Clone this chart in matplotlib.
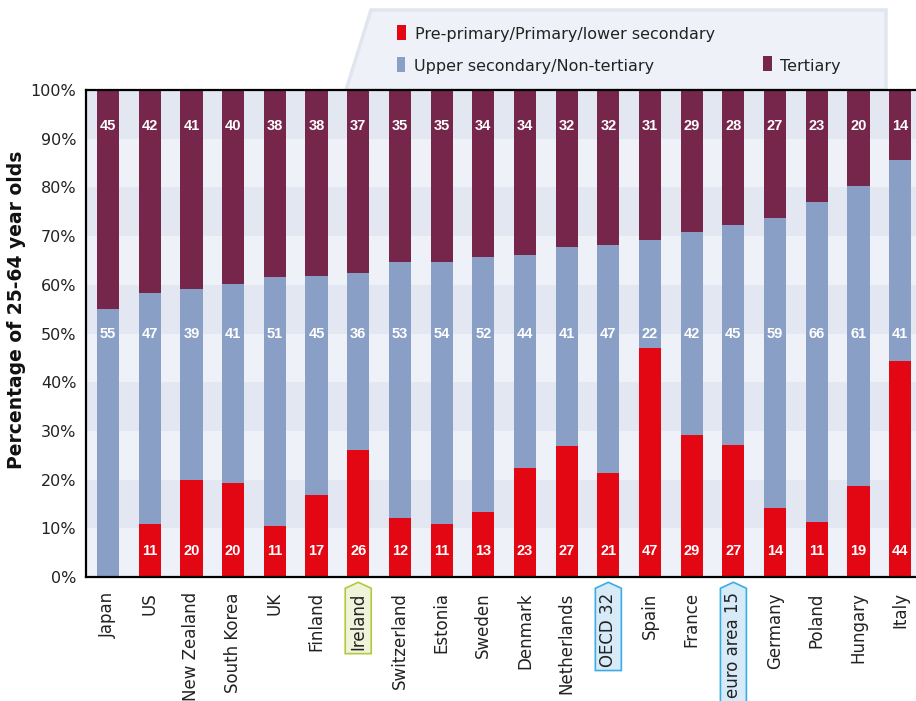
import matplotlib
matplotlib.use("Agg")
import matplotlib.pyplot as plt
from matplotlib.patches import Polygon, Rectangle
import numpy as np

countries = ["Japan", "US", "New Zealand", "South Korea", "UK", "Finland", "Ireland",
             "Switzerland", "Estonia", "Sweden", "Denmark", "Netherlands", "OECD 32",
             "Spain", "France", "euro area 15", "Germany", "Poland", "Hungary", "Italy"]
lower = [0.0, 10.9, 19.9, 19.3, 10.5, 16.8, 26.1, 12.1, 10.9, 13.3, 22.4, 26.9, 21.4,
         47.0, 29.2, 27.1, 14.2, 11.3, 18.7, 44.4]
upper = [55.0, 47.4, 39.2, 40.9, 51.1, 45.0, 36.3, 52.6, 53.8, 52.4, 43.7, 40.9, 46.8,
         22.2, 41.6, 45.2, 59.5, 65.7, 61.6, 41.2]
tertiary = [45.0, 41.7, 40.9, 39.8, 38.4, 38.2, 37.6, 35.3, 35.3, 34.3, 33.9, 32.2, 31.8,
            30.8, 29.2, 27.7, 26.3, 23.0, 19.7, 14.4]
lower_lbl = [None, 11, 20, 20, 11, 17, 26, 12, 11, 13, 23, 27, 21, 47, 29, 27, 14, 11, 19, 44]
upper_lbl = [55, 47, 39, 41, 51, 45, 36, 53, 54, 52, 44, 41, 47, 22, 42, 45, 59, 66, 61, 41]
tert_lbl = [45, 42, 41, 40, 38, 38, 37, 35, 35, 34, 34, 32, 32, 31, 29, 28, 27, 23, 20, 14]
series_names = ["Pre-primary/Primary/lower secondary", "Upper secondary/Non-tertiary", "Tertiary"]
yticks = [0, 10, 20, 30, 40, 50, 60, 70, 80, 90, 100]
highlight_green = ["Ireland"]
highlight_blue = ["OECD 32", "euro area 15"]

RED = "#e30613"
BLUE = "#8a9fc5"
PURPLE = "#76264a"
BAND_LIGHT = "#eef1f8"
BAND_DARK = "#e3e7f1"
FONT = "DejaVu Sans"
NUMFONT = ["Liberation Sans Narrow", "Liberation Sans", "DejaVu Sans"]

W, H = 916, 701
fig = plt.figure(figsize=(W / 100, H / 100), dpi=100)

def fx(px):
    return px / W

def fy(py):
    return 1 - py / H

ax = fig.add_axes([fx(86), fy(577), fx(916) - fx(86), fy(90) - fy(577)])
ax.set_zorder(2)
x = np.arange(len(countries))
ax.set_xlim(-0.53, 19.38)
ax.set_ylim(0, 100)

# background bands
for i in range(10):
    ax.axhspan(i * 10, i * 10 + 10, color=BAND_LIGHT if i % 2 == 0 else BAND_DARK, zorder=0, lw=0)

lower_a = np.array(lower)
upper_a = np.array(upper)
tert_a = np.array(tertiary)
bw = 0.53
ax.bar(x, lower_a, width=bw, color=RED, zorder=2, lw=0)
ax.bar(x, upper_a, width=bw, bottom=lower_a, color=BLUE, zorder=2, lw=0)
ax.bar(x, tert_a, width=bw, bottom=lower_a + upper_a, color=PURPLE, zorder=2, lw=0)

for i in range(len(countries)):
    if lower_lbl[i] is not None:
        ax.text(x[i], 5.3, str(lower_lbl[i]), color="white", ha="center", va="center",
                fontsize=10.5, fontweight="bold", family=NUMFONT, zorder=3)
    ax.text(x[i], 50.0, str(upper_lbl[i]), color="white", ha="center", va="center",
            fontsize=10.5, fontweight="bold", family=NUMFONT, zorder=3)
    ax.text(x[i], 92.6, str(tert_lbl[i]), color="white", ha="center", va="center",
            fontsize=10.5, fontweight="bold", family=NUMFONT, zorder=3)

ax.set_yticks(yticks)
ax.set_yticklabels([f"{v}%" for v in yticks], family=FONT, fontsize=11.5, color="#222222")
ax.set_xticks(x)
ax.set_xticklabels(countries, rotation=90, family=FONT, fontsize=12, color="#222222")
ax.tick_params(axis="both", length=0)
ax.tick_params(axis="x", pad=11)
ax.tick_params(axis="y", pad=7)
for s in ["left", "bottom", "top"]:
    ax.spines[s].set_linewidth(1.6)
    ax.spines[s].set_color("black")
    ax.spines[s].set_zorder(4)
ax.spines["right"].set_visible(False)

fig.text(fx(17), fy(310), "Percentage of 25-64 year olds", rotation=90, ha="center", va="center",
         family=FONT, fontsize=13.5, fontweight="bold", color="#111111")

# legend tab
tab = Polygon([(fx(346), fy(90)), (fx(371), fy(10)), (fx(886), fy(10)), (fx(886), fy(90))],
              closed=True, transform=fig.transFigure, facecolor="#eef1f8", edgecolor="#e1e5f0",
              lw=2.5, zorder=0)
fig.patches.append(tab)
leg_items = [(397, 25, 406, 40, 415, 34, series_names[0], RED),
             (397, 57, 405, 72, 414, 66, series_names[1], BLUE),
             (763, 56, 772, 71, 780, 66, series_names[2], PURPLE)]
for x0, y0, x1, y1, tx, ty, label, col in leg_items:
    fig.patches.append(Rectangle((fx(x0), fy(y1)), fx(x1) - fx(x0), fy(y0) - fy(y1),
                                 transform=fig.transFigure, facecolor=col, lw=0))
    fig.text(fx(tx), fy(ty), label, ha="left", va="center", family=FONT, fontsize=11.5,
             color="#222222")

# highlighted tick labels
fig.canvas.draw()
renderer = fig.canvas.get_renderer()
for lab in ax.get_xticklabels():
    t = lab.get_text()
    if t in highlight_green or t in highlight_blue:
        if t in highlight_green:
            fc, ec = "#eef3d9", "#b3c93a"
        else:
            fc, ec = "#d6eaf8", "#3badE5"
        bb = lab.get_window_extent(renderer)
        p = 4
        x0, x1 = bb.x0 - p, bb.x1 + p
        y0, y1 = bb.y0 - p, bb.y1 + p
        xc = (x0 + x1) / 2
        pts = [(x0, y0), (x1, y0), (x1, y1), (xc, y1 + 6), (x0, y1)]
        pts = [(px / W, py / H) for px, py in pts]
        fig.patches.append(Polygon(pts, closed=True, transform=fig.transFigure,
                                   facecolor=fc, edgecolor=ec, lw=1.2, zorder=-1))

fig.savefig("out.png", dpi=100)
